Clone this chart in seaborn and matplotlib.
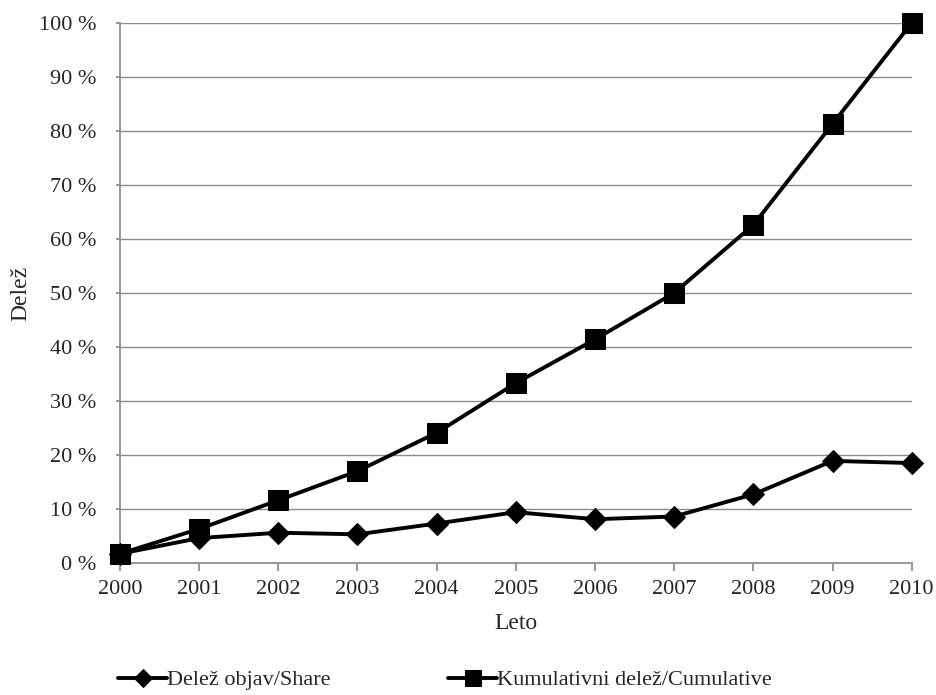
import pandas as pd
import seaborn as sns
import matplotlib.pyplot as plt
from matplotlib.ticker import FuncFormatter

# values
years = [2000, 2001, 2002, 2003, 2004, 2005, 2006, 2007, 2008, 2009, 2010]
share = [1.7, 4.6, 5.6, 5.3, 7.3, 9.4, 8.1, 8.6, 12.7, 18.9, 18.5]
cumulative = [1.7, 6.3, 11.6, 17.0, 24.1, 33.3, 41.4, 50.0, 62.6, 81.3, 100.0]
series_names = ['Delež objav/Share', 'Kumulativni delež/Cumulative']

data = pd.DataFrame({
    'Leto': years * 2,
    'value': share + cumulative,
    'series': [series_names[0]] * len(years) + [series_names[1]] * len(years),
})

sns.set_theme(style='white')
plt.rcParams['font.family'] = ['Liberation Serif', 'DejaVu Serif']

fig = plt.figure(figsize=(9.37, 6.95), dpi=100)
ax = fig.add_axes([0.128, 0.19, 0.845, 0.777])

sns.lineplot(data=data, x='Leto', y='value', hue='series', style='series',
             markers={series_names[0]: 'D', series_names[1]: 's'},
             dashes=False, palette=['black', 'black'],
             markersize=13, linewidth=2.8, markeredgecolor='black',
             clip_on=False, zorder=5, ax=ax)
# squares a bit bigger and drawn above the diamonds
for line in ax.lines:
    if line.get_marker() == 's':
        line.set_zorder(7)
        line.set_markersize(14)
    elif line.get_marker() == 'D':
        line.set_markersize(11)

ax.set_xlim(2000, 2010)
ax.set_ylim(0, 100)
ax.set_xticks(years)
ax.set_yticks(range(0, 101, 10))
ax.yaxis.set_major_formatter(FuncFormatter(lambda v, p: f'{int(v)} %'))
ax.grid(axis='y', color='#8c8c8c', linewidth=1)
ax.set_axisbelow(True)
for side in ['top', 'right']:
    ax.spines[side].set_visible(False)
for side in ['left', 'bottom']:
    ax.spines[side].set_color('#8c8c8c')
ax.tick_params(axis='x', bottom=True, length=6, color='#8c8c8c', labelsize=16, pad=6)
ax.tick_params(axis='y', left=True, length=3, color='#8c8c8c', labelsize=16, pad=14)

ax.set_xlabel('Leto', fontsize=17, labelpad=10)
ax.set_ylabel('Delež', fontsize=17)
ax.yaxis.set_label_coords(-0.112, 0.5)

handles, labels = ax.get_legend_handles_labels()
ax.get_legend().remove()
fig.legend(handles, labels, loc='lower center', bbox_to_anchor=(0.475, -0.022),
           ncol=2, frameon=False, fontsize=16, handlelength=2.2,
           handletextpad=0.0, columnspacing=5.3, markerscale=0.85)

fig.savefig('out.png', dpi=100)
